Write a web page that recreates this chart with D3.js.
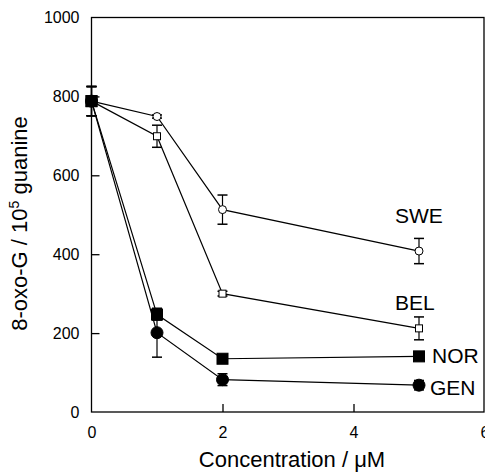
<!DOCTYPE html>
<html>
<head>
<meta charset="utf-8">
<script src="https://cdn.jsdelivr.net/npm/d3@7"></script>
<style>
  body { margin: 0; background: #fff; }
  text { font-family: "Liberation Sans", Arial, sans-serif; fill: #000; }
</style>
</head>
<body>
<div id="chart"></div>
<script>
// concentrations (µM) and 8-oxo-G values
const conc = [0, 1, 2, 5];
const sweVals = [788, 749, 513, 408];
const sweErr = [37, 4, 37, 32];
const belVals = [788, 699, 300, 212];
const belErr = [37, 28, 6, 29];
const norVals = [788, 247, 135, 141];
const norErr = [37, 14, 5, 5];
const genVals = [788, 201, 82, 68];
const genErr = [37, 62, 15, 12];
const xTicks = [0, 2, 4, 6];
const yTicks = [0, 200, 400, 600, 800, 1000];

const series = [
    { name: 'SWE', vals: sweVals, err: sweErr, shape: 'circle', filled: false, size: 4 },
    { name: 'BEL', vals: belVals, err: belErr, shape: 'square', filled: false, size: 7 },
    { name: 'NOR', vals: norVals, err: norErr, shape: 'square', filled: true, size: 11 },
    { name: 'GEN', vals: genVals, err: genErr, shape: 'circle', filled: true, size: 6 }
];

const width = 485, height = 473;
const plotLeft = 91.5, plotRight = 484, plotTop = 17.5, plotBottom = 412;

const svg = d3.select('#chart').append('svg')
    .attr('width', width)
    .attr('height', height);

const x = d3.scaleLinear().domain([0, 6]).range([plotLeft, plotLeft + 6 * 65.5]);
const y = d3.scaleLinear().domain([0, 1000]).range([plotBottom, plotTop]);

// frame
svg.append('rect')
    .attr('x', plotLeft).attr('y', plotTop)
    .attr('width', plotRight - plotLeft).attr('height', plotBottom - plotTop)
    .attr('fill', 'none').attr('stroke', '#000').attr('stroke-width', 1.3);

// axes with inward ticks
const xAxis = svg.append('g')
    .attr('transform', `translate(0,${plotBottom})`)
    .call(d3.axisBottom(x).tickValues(xTicks).tickFormat(d3.format('d')).tickSize(-8).tickPadding(15));
const yAxis = svg.append('g')
    .attr('transform', `translate(${plotLeft},0)`)
    .call(d3.axisLeft(y).tickValues(yTicks).tickFormat(d3.format('d')).tickSize(-8).tickPadding(12));
[xAxis, yAxis].forEach(g => {
    g.select('.domain').remove();
    g.selectAll('.tick line').attr('stroke', '#000').attr('stroke-width', 1.3);
    g.selectAll('.tick text').style('font-size', '16px').attr('fill', '#000')
        .style('font-family', '"Liberation Sans", Arial, sans-serif');
});
xAxis.selectAll('.tick').filter(d => d === 0 || d === 6).select('line').remove();
yAxis.selectAll('.tick').filter(d => d === 0 || d === 1000).select('line').remove();

// axis titles
svg.append('text')
    .attr('x', 292).attr('y', 467)
    .attr('text-anchor', 'middle')
    .style('font-size', '22px')
    .text('Concentration / μM');

const yl = svg.append('text')
    .attr('transform', `translate(27,223.5) rotate(-90)`)
    .attr('text-anchor', 'middle')
    .style('font-size', '22px');
yl.append('tspan').text('8-oxo-G / 10');
yl.append('tspan').attr('dy', -8).style('font-size', '14px').text('5');
yl.append('tspan').attr('dy', 8).text(' guanine');

const line = d3.line().x((d, i) => x(conc[i])).y(d => y(d));

series.forEach(s => {
    const g = svg.append('g');
    g.append('path')
        .attr('d', line(s.vals))
        .attr('fill', 'none').attr('stroke', '#000').attr('stroke-width', 1.2);

    // error bars
    s.vals.forEach((v, i) => {
        const cx = x(conc[i]);
        const e = s.err[i];
        g.append('line')
            .attr('x1', cx).attr('x2', cx)
            .attr('y1', y(v - e)).attr('y2', y(v + e))
            .attr('stroke', '#000').attr('stroke-width', 1.2);
        [v - e, v + e].forEach(t => {
            g.append('line')
                .attr('x1', cx - 5).attr('x2', cx + 5)
                .attr('y1', y(t)).attr('y2', y(t))
                .attr('stroke', '#000').attr('stroke-width', 1.5);
        });
    });

    // markers
    s.vals.forEach((v, i) => {
        const cx = x(conc[i]), cy = y(v);
        let m;
        if (s.shape === 'circle') {
            m = g.append('circle').attr('cx', cx).attr('cy', cy).attr('r', s.size);
        } else {
            m = g.append('rect')
                .attr('x', cx - s.size / 2).attr('y', cy - s.size / 2)
                .attr('width', s.size).attr('height', s.size);
        }
        m.attr('fill', s.filled ? '#000' : '#fff')
            .attr('stroke', '#000').attr('stroke-width', 1);
    });
});

// big filled square at the origin point on top
svg.append('rect')
    .attr('x', x(0) - 6).attr('y', y(788) - 6)
    .attr('width', 12).attr('height', 12)
    .attr('fill', '#000');

// series labels
const labels = [
    { text: 'SWE', xv: 5, yv: sweVals[3], dx: -24, dy: -28 },
    { text: 'BEL', xv: 5, yv: belVals[3], dx: -24, dy: -18 },
    { text: 'NOR', xv: 5, yv: norVals[3], dx: 13, dy: 7 },
    { text: 'GEN', xv: 5, yv: genVals[3], dx: 11, dy: 10 }
];
labels.forEach(l => {
    svg.append('text')
        .attr('x', x(l.xv) + l.dx).attr('y', y(l.yv) + l.dy)
        .style('font-size', '21px')
        .text(l.text);
});
</script>
</body>
</html>
